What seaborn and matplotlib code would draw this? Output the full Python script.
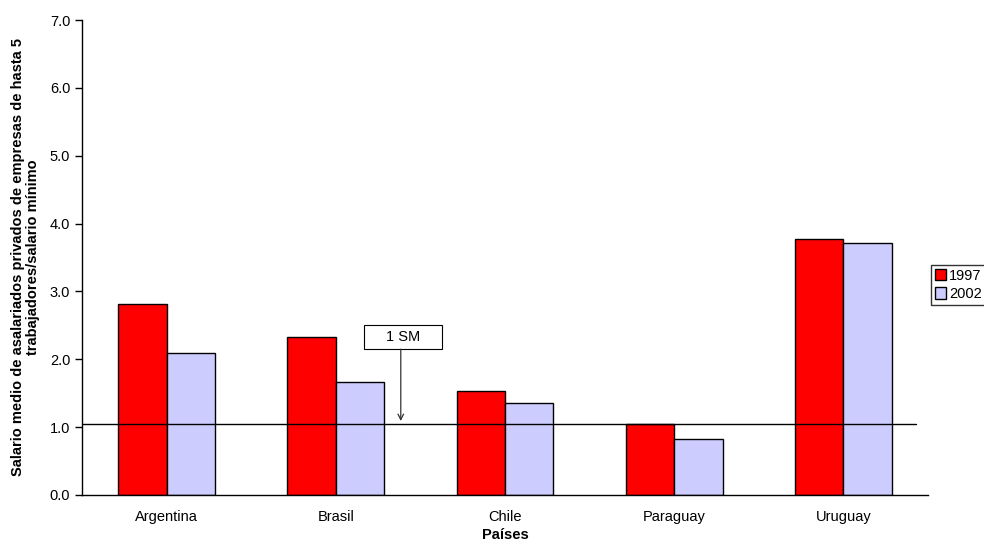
import matplotlib
matplotlib.use("Agg")
import matplotlib.pyplot as plt
from matplotlib.patches import Rectangle, Patch
from matplotlib.ticker import FormatStrFormatter, FixedLocator
import seaborn as sns
import pandas as pd

# Data
paises = ["Argentina", "Brasil", "Chile", "Paraguay", "Uruguay"]
anios = ["1997", "2002"]
valores_1997 = [2.81, 2.33, 1.53, 1.05, 3.78]
valores_2002 = [2.09, 1.67, 1.35, 0.82, 3.72]
salario_minimo = 1.05
colores = ["#FF0000", "#CCCCFF"]

df = pd.DataFrame({
    "País": paises * 2,
    "Año": [anios[0]] * len(paises) + [anios[1]] * len(paises),
    "Valor": valores_1997 + valores_2002,
})

sns.set_style("white")
plt.rcParams["font.family"] = ["Liberation Sans", "DejaVu Sans"]
plt.rcParams["text.color"] = "black"
plt.rcParams["axes.labelcolor"] = "black"
plt.rcParams["xtick.color"] = "black"
plt.rcParams["ytick.color"] = "black"

fig = plt.figure(figsize=(9.84, 5.43), dpi=100)
ax = fig.add_axes([82 / 984, 1 - 495 / 543, (928 - 82) / 984, (495 - 20) / 543])

sns.barplot(data=df, x="País", y="Valor", hue="Año", palette=colores,
            width=0.573, gap=0, edgecolor="black", linewidth=1.0,
            saturation=1, ax=ax, legend=False)

# Reference line at one minimum wage
ax.plot([-0.5, 4.43], [salario_minimo, salario_minimo], color="black", lw=1.0, zorder=5)

# "1 SM" label box with arrow pointing at the line
ax.add_patch(Rectangle((1.166, 2.15), 0.46, 0.35, facecolor="white",
                       edgecolor="black", lw=0.8, zorder=6))
ax.text(1.396, 2.325, "1 SM", ha="center", va="center", fontsize=10.5, zorder=7)
ax.annotate("", xy=(1.384, salario_minimo + 0.04), xytext=(1.384, 2.15),
            arrowprops=dict(arrowstyle="->", color="#333333", lw=0.9,
                            shrinkA=0, shrinkB=0), zorder=6)

ax.set_xlim(-0.5, 4.5)
ax.set_ylim(0, 7)
ax.yaxis.set_major_locator(FixedLocator([0, 1, 2, 3, 4, 5, 6, 7]))
ax.yaxis.set_major_formatter(FormatStrFormatter("%.1f"))

ax.set_xticks(range(len(paises)))
ax.set_xticklabels(paises)
ax.set_xticks([i - 0.5 for i in range(len(paises) + 1)], minor=True)
ax.tick_params(axis="x", which="major", length=0, pad=11, labelsize=10.5)
ax.tick_params(axis="x", which="minor", length=5, width=1, color="black", direction="out")
ax.tick_params(axis="y", which="major", length=5, width=1, color="black",
               direction="out", labelsize=10.5, left=True)

for side in ["top", "right"]:
    ax.spines[side].set_visible(False)
for side in ["left", "bottom"]:
    ax.spines[side].set_color("black")
    ax.spines[side].set_linewidth(1.0)

ax.set_xlabel("Países", fontsize=10.5, fontweight="bold", labelpad=3)
ax.set_ylabel("Salario medio de asalariados privados de empresas de hasta 5\n"
              "trabajadores/salario mínimo", fontsize=10.5, fontweight="bold",
              linespacing=1.1)
ax.yaxis.set_label_coords(-0.0496, 0.5)

handles = [Patch(facecolor=c, edgecolor="black", lw=1.0) for c in colores]
fig.legend(handles, anios, loc="upper left", bbox_to_anchor=(931 / 984, 1 - 265 / 543),
           frameon=True, fancybox=False, edgecolor="black", fontsize=10.5,
           handlelength=0.8, handleheight=0.8, handletextpad=0.2,
           borderpad=0.25, labelspacing=0.3, borderaxespad=0)

fig.savefig("out.png", dpi=100)
